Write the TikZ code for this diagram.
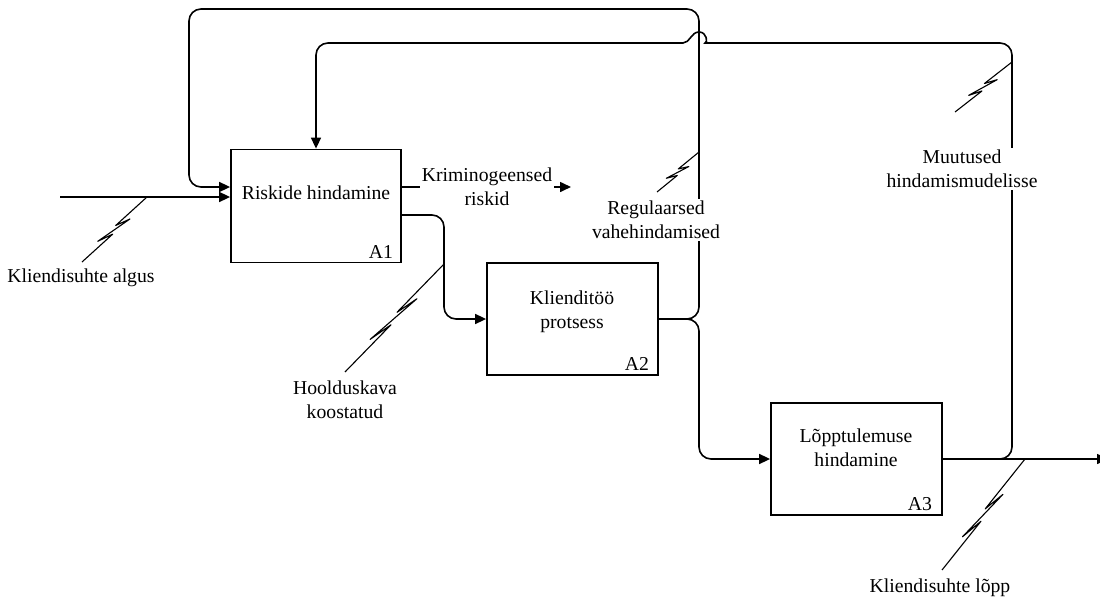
\documentclass[tikz,border=0pt]{standalone}
\usepackage{fontspec}
\setmainfont{Liberation Serif}
\usetikzlibrary{arrows.meta,calc}
\tikzset{
  box/.style={draw, line width=1.8pt, minimum width=170pt, minimum height=113pt, inner sep=0pt},
  conn/.style={line width=1.6pt},
  arr/.style={conn, -{Triangle[length=11pt,width=10pt]}},
  rc/.style={rounded corners=12pt},
  squigline/.style={line width=1.1pt, line join=round},
  lbl/.style={align=center, inner sep=2pt, font=\fontsize{19.7}{23.5}\selectfont},
  wlbl/.style={lbl, fill=white},
  tag/.style={inner sep=0pt, font=\fontsize{19.7}{23.5}\selectfont}
}
\newcommand\squig[2]{\draw[squigline] (#1) -- ($(#1)!0.46!(#2)!-2pt!90:(#2)$) -- ($(#1)!0.30!(#2)!3.5pt!90:(#2)$) -- ($(#1)!0.72!(#2)!-3.5pt!90:(#2)$) -- ($(#1)!0.55!(#2)!2pt!90:(#2)$) -- (#2);}
\begin{document}
\begin{tikzpicture}[x=1pt,y=-1pt]
\useasboundingbox (0,0) rectangle (1100,599);
% boxes
\node[box] (a1) at (316,206) {};
\node[box, minimum width=171pt, minimum height=112pt] (a2) at (572.5,319) {};
\node[box, minimum width=171pt, minimum height=112pt] (a3) at (856.5,459) {};
\node[lbl] (t1) at (316,193) {Riskide hindamine};
\node[lbl] (t2) at (572,312) {Klienditöö\\protsess};
\node[lbl] (t3) at (856,448) {Lõpptulemuse\\hindamine};
\node[tag] (n1) at (381,252) {A1};
\node[tag] (n2) at (637,364) {A2};
\node[tag] (n3) at (920,504) {A3};
% coordinates
\coordinate (in1) at (60,197);
\coordinate (krimend) at (571,187);
\coordinate (top2) at (0,43);
\coordinate (out3) at (1108,459);
% input
\draw[arr] (in1) -- (in1 -| a1.west);
% A1 -> A2
\draw[arr, rc] ($(a1.east)+(0,9)$) -- (444,215) -- (444,319) -- (a2.west);
% A2 -> A3
\draw[arr, rc] (a2.east) -- (699,319) -- (699,459) -- (a3.west);
% A2 -> A1 feedback (outer)
\draw[arr, rc] (a2.east) -- (699,319) -- (699,9) -- (189,9) -- (189,187) -- (a1.west |- krimend);
% A3 -> A1 control
\draw[arr, rc] (a3.east) -- (1012,459) -- (1012,43) -- (717,43) [sharp corners] .. controls (708,43) and (707,32) .. (699,32) .. controls (691,32) and (690,43) .. (683,43) [rounded corners=12pt] -- (a1.north |- top2) -- (a1.north);
% A3 output
\draw[arr] (a3.east) -- (out3);
% A1 output 1
\draw[arr] (a1.east |- krimend) -- (krimend);
% labels
\node[wlbl] (krim) at (487,187) {Kriminogeensed\\riskid};
\node[wlbl] (reg) at (656,220) {Regulaarsed\\vahehindamised};
\node[wlbl] (muut) at (962,169) {Muutused\\hindamismudelisse};
\node[lbl] (kalg) at (81,278) {Kliendisuhte algus};
\node[lbl] (hool) at (345,400) {Hoolduskava\\koostatud};
\node[lbl] (klop) at (940,588) {Kliendisuhte lõpp};
% squiggles
\coordinate (s1a) at (147,197); \coordinate (s1b) at (82,262);
\coordinate (s2a) at (444,264); \coordinate (s2b) at (345,372);
\coordinate (s3a) at (699,152); \coordinate (s3b) at (657,192);
\coordinate (s4a) at (1012,62); \coordinate (s4b) at (955,112);
\coordinate (s5a) at (1025,459); \coordinate (s5b) at (942,570);
\squig{s1a}{s1b}
\squig{s2a}{s2b}
\squig{s3a}{s3b}
\squig{s4a}{s4b}
\squig{s5a}{s5b}
\end{tikzpicture}
\end{document}
